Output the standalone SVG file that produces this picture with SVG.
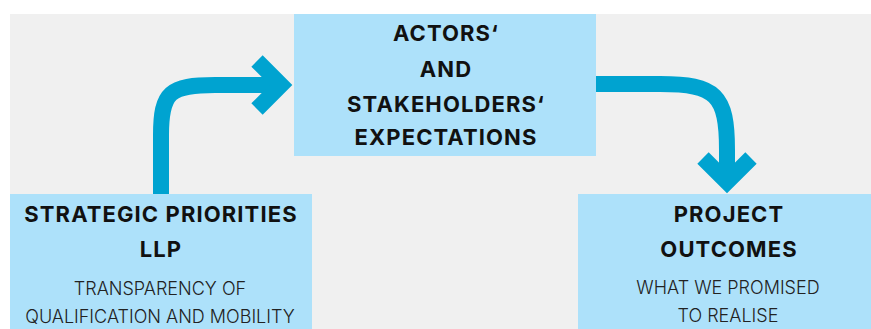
<svg xmlns="http://www.w3.org/2000/svg" width="871" height="329" viewBox="0 0 871 329">
<style>
.box{fill:#ade1fa}
.t{font-family:Inter,"Liberation Sans",sans-serif;font-weight:700;font-size:22px;letter-spacing:1.1px;fill:#111;text-anchor:middle}
.s{font-family:Inter,"Liberation Sans",sans-serif;font-weight:300;font-size:18px;fill:#222;text-anchor:middle}
.arr{fill:none;stroke:#00a3d0;stroke-width:16}
.head{fill:none;stroke:#00a3d0;stroke-width:16;stroke-linejoin:miter;stroke-miterlimit:4}
</style>
<rect x="0" y="0" width="871" height="329" fill="#ffffff"/>
<rect x="10" y="14" width="861" height="315" fill="#f0f0f0"/>
<g id="connectors">
<path class="arr" d="M161,194 L161,135 C161,92 170,85 215,85 L280,85"/>
<polyline class="head" points="257,61 281,85 257,109"/>
<path class="arr" d="M596,84 L660,84 C716,84 727,95 727,150 L727,180"/>
<polyline class="head" points="703,158 727,182 751,158"/>
</g>
<g id="actors">
<rect class="box" x="294" y="14" width="302" height="142"/>
<text class="t" x="446" y="41">ACTORS‘</text>
<text class="t" x="446" y="77">AND</text>
<text class="t" x="446" y="112">STAKEHOLDERS‘</text>
<text class="t" x="446" y="145">EXPECTATIONS</text>
</g>
<g id="strategic">
<rect class="box" x="10" y="194" width="302" height="135"/>
<text class="t" x="161" y="222">STRATEGIC PRIORITIES</text>
<text class="t" x="161" y="257">LLP</text>
<text class="s" x="160" y="295">TRANSPARENCY OF</text>
<text class="s" x="160" y="323">QUALIFICATION AND MOBILITY</text>
</g>
<g id="outcomes">
<rect class="box" x="578" y="194" width="293" height="135"/>
<text class="t" x="729" y="222">PROJECT</text>
<text class="t" x="729" y="257">OUTCOMES</text>
<text class="s" x="728" y="294">WHAT WE PROMISED</text>
<text class="s" x="728" y="322">TO REALISE</text>
</g>
</svg>
